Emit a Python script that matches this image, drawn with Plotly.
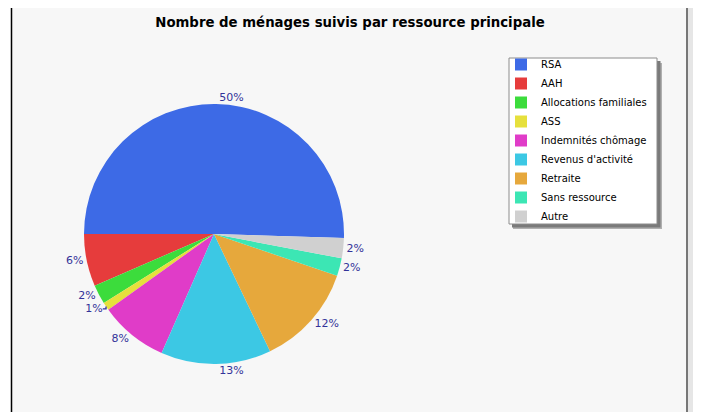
import plotly.graph_objects as go

categories = ["RSA", "AAH", "Allocations familiales", "ASS", "Indemnités chômage",
              "Revenus d'activité", "Retraite", "Sans ressource", "Autre"]
values = [50.5, 6.5, 2.4, 1.0, 8.5, 13.7, 12.7, 2.2, 2.5]
pct_labels = ["50%", "6%", "2%", "1%", "8%", "13%", "12%", "2%", "2%"]
colors = ["#3d6ae6", "#e63c3c", "#3cdc3c", "#e6e03c", "#e03cc8",
          "#3cc8e4", "#e6a83c", "#3ce6b4", "#d0d0d0"]

W, H = 701, 412
OFF = 8  # page body margin


def X(px):
    return (px - OFF) / W


def Y(py):
    return (H - (py - OFF)) / H


cx, cy, r = 214, 234, 130

fig = go.Figure(go.Pie(
    labels=categories,
    values=values,
    text=pct_labels,
    textinfo="text",
    textposition="outside",
    textfont=dict(family="DejaVu Sans", size=11, color="#333399"),
    marker=dict(colors=colors, line=dict(width=0)),
    sort=False,
    direction="counterclockwise",
    rotation=270,
    showlegend=True,
    domain=dict(x=[X(cx - r), X(cx + r)], y=[Y(cy + r), Y(cy - r)]),
    hoverinfo="label+percent",
))

shapes = [
    dict(type="rect", xref="paper", yref="paper", x0=X(12), x1=X(686), y0=0, y1=1,
         fillcolor="#f7f7f7", line=dict(width=0), layer="below"),
    dict(type="line", xref="paper", yref="paper", x0=X(11.5), x1=X(11.5), y0=0, y1=1,
         line=dict(color="#000000", width=1.5), layer="below"),
    dict(type="rect", xref="paper", yref="paper", x0=X(688), x1=1, y0=0, y1=1,
         fillcolor="#e6e6e6", line=dict(width=0), layer="below"),
    dict(type="line", xref="paper", yref="paper", x0=X(687), x1=X(687), y0=0, y1=1,
         line=dict(color="#777777", width=2), layer="below"),
    # legend shadow
    dict(type="rect", xref="paper", yref="paper", x0=X(513), x1=X(662), y0=Y(229), y1=Y(63),
         fillcolor="#b0b0b0", line=dict(width=0), layer="below"),
    dict(type="rect", xref="paper", yref="paper", x0=X(512), x1=X(660.5), y0=Y(227.5), y1=Y(61),
         fillcolor="#7a7a7a", line=dict(width=0), layer="below"),
    # legend box
    dict(type="rect", xref="paper", yref="paper", x0=X(509), x1=X(657), y0=Y(224), y1=Y(58),
         fillcolor="#ffffff", line=dict(color="#8c8c8c", width=1), layer="below"),
]

fig.update_layout(
    width=W, height=H,
    margin=dict(l=0, r=0, t=0, b=0),
    paper_bgcolor="#ffffff",
    plot_bgcolor="#f7f7f7",
    shapes=shapes,
    title=dict(text="<b>Nombre de ménages suivis par ressource principale</b>",
               x=X(350), xanchor="center", y=Y(22), yanchor="middle",
               font=dict(family="DejaVu Sans", size=13.3, color="#000000")),
    legend=dict(x=X(501), y=Y(50), xanchor="left", yanchor="top",
                bgcolor="rgba(0,0,0,0)", borderwidth=0,
                font=dict(family="DejaVu Sans", size=10, color="#000000"),
                itemwidth=30, tracegroupgap=0),
)

fig.write_html("out.html")
